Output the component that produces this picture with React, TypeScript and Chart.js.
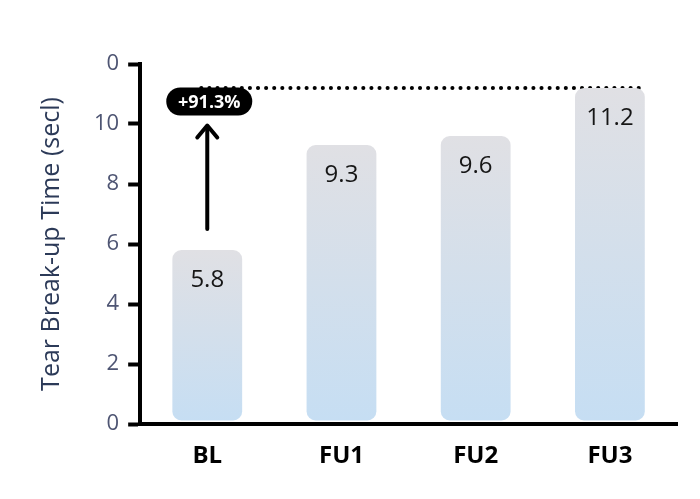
import { useEffect, useRef } from "react";
import { Chart, registerables } from "chart.js";

Chart.register(...registerables);

const categories = ["BL", "FU1", "FU2", "FU3"];
const values = [5.8, 9.3, 9.6, 11.2];
const barBase = 0.12;
const yTickValues = [0, 2, 4, 6, 8, 10, 12];
const yTickLabels = ["0", "2", "4", "6", "8", "10", "0"];
const changeLabel = "+91.3%";
const yTitle = "Tear Break-up Time (secl)";

const FONT = "'Open Sans', 'Noto Sans', sans-serif";

// dotted reference line, arrow, pill label and value labels
const annotationPlugin = {
  id: "annotations",
  beforeDatasetsDraw(chart: any) {
    const { ctx, scales } = chart;
    const x = scales.x.getPixelForValue(0);
    const xEnd = scales.x.getPixelForValue(3) + 36;
    const yTop = scales.y.getPixelForValue(values[3]);
    ctx.save();
    ctx.strokeStyle = "#000";
    ctx.lineWidth = 4;
    ctx.lineCap = "round";
    ctx.setLineDash([0.1, 8]);
    ctx.beginPath();
    ctx.moveTo(x - 6, yTop);
    ctx.lineTo(xEnd, yTop);
    ctx.stroke();
    ctx.restore();
  },
  afterDatasetsDraw(chart: any) {
    const { ctx, scales } = chart;
    const x = scales.x.getPixelForValue(0);
    ctx.save();
    const meta = chart.getDatasetMeta(0);
    ctx.fillStyle = "#161616";
    ctx.font = `24px ${FONT}`;
    ctx.textAlign = "center";
    ctx.textBaseline = "middle";
    meta.data.forEach((bar: any, i: number) => {
      ctx.fillText(String(values[i]), bar.x, bar.y + 30);
    });

    // arrow
    const yA0 = scales.y.getPixelForValue(6.5);
    const yA1 = scales.y.getPixelForValue(9.95);
    ctx.strokeStyle = "#000";
    ctx.lineWidth = 4;
    ctx.lineCap = "round";
    ctx.lineJoin = "round";
    ctx.beginPath();
    ctx.moveTo(x, yA0);
    ctx.lineTo(x, yA1 + 2);
    ctx.stroke();
    ctx.beginPath();
    ctx.moveTo(x - 10, yA1 + 12);
    ctx.lineTo(x, yA1);
    ctx.lineTo(x + 10, yA1 + 12);
    ctx.stroke();

    // pill
    const yP = scales.y.getPixelForValue(10.75);
    const w = 86;
    const h = 28;
    ctx.fillStyle = "#000";
    ctx.beginPath();
    ctx.roundRect(x + 2 - w / 2, yP - h / 2, w, h, h / 2);
    ctx.fill();
    ctx.fillStyle = "#fff";
    ctx.font = `bold 18px ${FONT}`;
    ctx.fillText(changeLabel, x + 2, yP + 1);
    ctx.restore();
  },
};

export default function App() {
  const canvasRef = useRef<HTMLCanvasElement>(null);

  useEffect(() => {
    if (!canvasRef.current) return;
    const chart = new Chart(canvasRef.current, {
      type: "bar",
      data: {
        labels: categories,
        datasets: [
          {
            data: values.map((v) => [barBase, v]) as any,
            backgroundColor: (c: any) => {
              const { chart } = c;
              const area = chart.chartArea;
              if (!area || c.dataIndex === undefined) return "#d4dfec";
              const y = chart.scales.y;
              const top = y.getPixelForValue(values[c.dataIndex]);
              const bottom = y.getPixelForValue(barBase);
              const g = chart.ctx.createLinearGradient(0, top, 0, bottom);
              g.addColorStop(0, "#e0e0e4");
              g.addColorStop(1, "#c6def3");
              return g;
            },
            borderRadius: 9,
            borderSkipped: false,
            barPercentage: 0.52,
            categoryPercentage: 1,
          },
        ],
      },
      options: {
        animation: false,
        responsive: false,
        maintainAspectRatio: false,
        layout: { padding: { top: 64, right: 23, left: 37, bottom: 0 } },
        plugins: {
          legend: { display: false },
          tooltip: { enabled: false },
        },
        scales: {
          x: {
            afterFit: (axis: any) => {
              axis.height = 75;
            },
            grid: {
              drawOnChartArea: false,
              drawTicks: true,
              tickLength: 0,
              color: "#000",
            },
            border: { display: true, color: "#000", width: 4 },
            ticks: {
              color: "#000",
              padding: 18,
              font: { family: FONT, size: 24, weight: "bold" },
            },
          },
          y: {
            min: 0,
            max: 12,
            afterBuildTicks: (axis: any) => {
              axis.ticks = yTickValues.map((v) => ({ value: v }));
            },
            grid: {
              drawOnChartArea: false,
              drawTicks: true,
              tickLength: 12,
              tickWidth: 4,
              color: "#000",
            },
            border: { display: true, color: "#000", width: 4 },
            ticks: {
              color: "#4e5573",
              padding: 9,
              font: { family: FONT, size: 22 },
              callback: (_v: any, i: number) => yTickLabels[i],
            },
            title: {
              display: true,
              text: yTitle,
              color: "#2c3a58",
              padding: { top: 0, bottom: 18 },
              font: { family: FONT, size: 25 },
            },
          },
        },
      },
      plugins: [annotationPlugin],
    });
    return () => chart.destroy();
  }, []);

  return (
    <div
      style={{
        position: "fixed",
        left: 0,
        top: 0,
        width: 700,
        height: 499,
        background: "#fff",
      }}
    >
      <canvas ref={canvasRef} width={700} height={499} />
    </div>
  );
}
